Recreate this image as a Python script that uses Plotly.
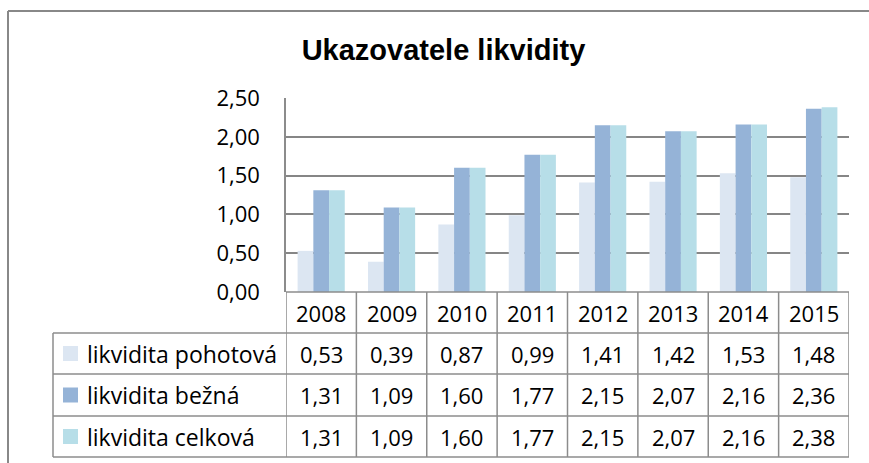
import plotly.graph_objects as go

years = ["2008", "2009", "2010", "2011", "2012", "2013", "2014", "2015"]
series_names = ["likvidita pohotová", "likvidita bežná", "likvidita celková"]
pohotova = [0.53, 0.39, 0.87, 0.99, 1.41, 1.42, 1.53, 1.48]
bezna = [1.31, 1.09, 1.60, 1.77, 2.15, 2.07, 2.16, 2.36]
celkova = [1.31, 1.09, 1.60, 1.77, 2.15, 2.07, 2.16, 2.38]
colors = ["#DCE6F2", "#95B3D7", "#B7DEE8"]
series = [pohotova, bezna, celkova]

W, H = 869, 463
L = 286
T = 98
Y0 = 292
R = W - 849
B = H - Y0
PW = W - L - R
PH = H - T - B

def px(x):
    return (x - L) / PW

def py(y):
    return (Y0 - y) / PH

fig = go.Figure()
for name, vals, col in zip(series_names, series, colors):
    fig.add_trace(go.Bar(x=years, y=vals, name=name, marker=dict(color=col, line=dict(width=0))))

FONT = "Open Sans"
FS = 22
GRID = "#868686"
LINE = "#8C8C8C"

fig.update_layout(
    width=W, height=H,
    margin=dict(l=L, r=R, t=T, b=B, pad=0),
    paper_bgcolor="white", plot_bgcolor="white",
    barmode="group", bargap=0.33, bargroupgap=0,
    showlegend=False,
    separators=", ",
    font=dict(family=FONT, size=FS, color="black"),
    title=dict(text="<b>Ukazovatele likvidity</b>", xref="container", x=443.5 / W, xanchor="center",
               yref="container", y=1 - 50 / H, yanchor="middle",
               font=dict(family="Liberation Sans, Arial", size=29, color="black")),
    xaxis=dict(type="category", range=[-0.5, 7.5], showticklabels=False, showgrid=False,
               zeroline=False, showline=False, ticks=""),
    yaxis=dict(range=[0, 2.5], dtick=0.5, tick0=0, tickformat=".2f", showgrid=True,
               gridcolor=GRID, gridwidth=1.5, zeroline=False, showline=True,
               linecolor=LINE, linewidth=1.5, ticks="", ticklabelstandoff=20,
               tickfont=dict(family=FONT, size=FS, color="black")),
)

shapes = []
ann = []
# outer frame (left and top border)
shapes.append(dict(type="line", xref="paper", yref="paper", x0=px(8), x1=px(8), y0=py(11), y1=py(480),
                   line=dict(color="#888888", width=2)))
shapes.append(dict(type="line", xref="paper", yref="paper", x0=px(8), x1=px(890), y0=py(11), y1=py(11),
                   line=dict(color="#888888", width=2)))

row_edges = [292, 333, 374, 416, 457]
tab_left = 53
tab_right = 849
shapes.append(dict(type="line", xref="paper", yref="paper", x0=px(286), x1=px(tab_right),
                   y0=py(row_edges[0]), y1=py(row_edges[0]), line=dict(color=LINE, width=1.5)))
for ye in row_edges[1:]:
    shapes.append(dict(type="line", xref="paper", yref="paper", x0=px(tab_left), x1=px(tab_right),
                       y0=py(ye), y1=py(ye), line=dict(color=LINE, width=1.5)))
shapes.append(dict(type="line", xref="paper", yref="paper", x0=px(tab_left), x1=px(tab_left),
                   y0=py(row_edges[1]), y1=py(row_edges[-1]), line=dict(color=LINE, width=1.5)))
for i in range(len(years) + 1):
    shapes.append(dict(type="line", xref="x", yref="paper", x0=i - 0.5, x1=i - 0.5,
                       y0=py(row_edges[0]), y1=py(row_edges[-1]), line=dict(color=LINE, width=1.5)))

hc = (row_edges[0] + row_edges[1]) / 2
for i, yr in enumerate(years):
    ann.append(dict(x=i, xref="x", y=py(hc), yref="paper", text=yr, showarrow=False,
                    xanchor="center", yanchor="middle", font=dict(family=FONT, size=FS, color="black")))

for r, (name, vals, col) in enumerate(zip(series_names, series, colors)):
    c = (row_edges[r + 1] + row_edges[r + 2]) / 2
    shapes.append(dict(type="rect", xref="paper", yref="paper", x0=px(63), x1=px(78),
                       y0=py(c + 7.5), y1=py(c - 7.5), fillcolor=col, line=dict(width=0)))
    ann.append(dict(x=px(85), xref="paper", y=py(c), yref="paper", text=name, showarrow=False,
                    xanchor="left", yanchor="middle", font=dict(family=FONT, size=FS + 1, color="black")))
    for i, v in enumerate(vals):
        ann.append(dict(x=i, xref="x", y=py(c), yref="paper", text=f"{v:.2f}".replace(".", ","),
                        showarrow=False, xanchor="center", yanchor="middle",
                        font=dict(family=FONT, size=FS, color="black")))

fig.update_layout(shapes=shapes, annotations=ann)
fig.write_html("out.html", config={"displayModeBar": False},
               post_script=("document.documentElement.style.overflow='hidden';"
                            "document.body.style.margin='0';document.body.style.overflow='hidden';"))
